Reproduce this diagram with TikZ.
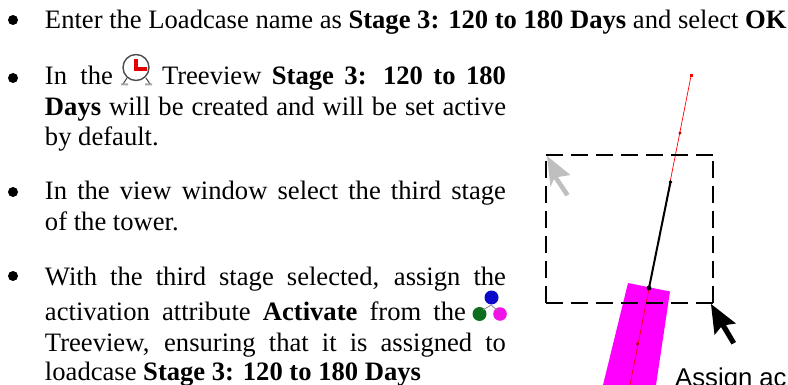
\documentclass[tikz,border=0pt]{standalone}
\usepackage{fontspec}
\setmainfont{Liberation Serif}
\newfontfamily\labelfont{Liberation Sans}
\definecolor{memberpink}{RGB}{255,0,255}
\definecolor{triadpink}{RGB}{240,20,230}
\definecolor{triadblue}{RGB}{10,10,200}
\definecolor{triadgreen}{RGB}{15,110,30}
\tikzset{
  x=1pt,y=1pt,
  txt/.style={anchor=base west,inner sep=0pt,outer sep=0pt,font=\fontsize{26.6}{30}\selectfont},
  bul/.style={circle,fill=black,inner sep=0pt,minimum size=10pt},
  window/.style={black,line width=2pt,dash pattern=on 17pt off 8pt}
}
\newcommand{\jl}[2]{\makebox[#1][s]{#2}}
\begin{document}
\begin{tikzpicture}
\useasboundingbox (0,0) rectangle (788,-385);
% bullets
\foreach \n/\y in {a/-20,b/-78,c/-192,d/-276}{\node[bul] (bul\n) at (13,\y) {};}
% text
\node[txt] (t1) at (45,-29) {Enter the Loadcase name as \textbf{Stage 3: 120 to 180 Days} and select \textbf{OK}};
\node[txt] (t2a) at (45,-85) {\jl{68pt}{In the}};
\node[txt] (t2b) at (162,-85) {\jl{344pt}{Treeview \textbf{Stage 3: 120 to 180}}};
\node[txt] (t3) at (45,-116) {\jl{461pt}{\textbf{Days} will be created and will be set active}};
\node[txt] (t4) at (45,-146) {by default.};
\node[txt] (t5) at (45,-200) {\jl{461pt}{In the view window select the third stage}};
\node[txt] (t6) at (45,-231) {of the tower.};
\node[txt] (t7) at (45,-285) {\jl{461pt}{With the third stage selected, assign the}};
\node[txt] (t8a) at (45,-320) {\jl{421pt}{activation attribute \textbf{Activate} from the}};
\node[txt] (t9) at (45,-351) {\jl{461pt}{Treeview, ensuring that it is assigned to}};
\node[txt] (t10) at (45,-380) {loadcase \textbf{Stage 3: 120 to 180 Days}};
% clock icon
\draw[black!70,line width=1pt] (127,-78) -- (123,-84) (146,-78) -- (150,-84);
\fill[black!35] (121,-83.5) rectangle (128,-85.5) (145,-83.5) rectangle (152,-85.5);
\draw[black!70,fill=white,line width=1.4pt] (136,-67.5) circle (13);
\fill[red!90!black] (133.5,-59.5) rectangle (138,-71);
\fill[red!90!black] (133.5,-67) rectangle (147,-71);
% triad icon
\fill[triadgreen] (479.5,-314) circle (7);
\fill[triadpink] (500,-314) circle (6.8);
\fill[triadblue] (491.5,-297.5) circle (7);
\draw[black!45,line width=0.8pt] (491,-305) -- (483,-310) (491,-305) -- (497,-310);
% magenta member
\fill[memberpink] (628,-283) -- (670,-291.5) -- (656,-385) -- (603,-385) -- cycle;
% red line
\draw[red,line width=0.7pt] (691,-76) -- (630,-385);
\fill[red] (689.5,-77.5) rectangle (692.5,-74.5);
\fill[red!70!black] (680,-133) circle (1.6);
\fill[red!70!black] (659,-239) circle (1.3);
\fill[red!60!black] (637.5,-344) circle (1.6);
% black member
\draw[black,line width=2pt] (670.5,-182) -- (649,-288);
\fill[black] (670.5,-182) circle (1.9);
\fill[black] (649,-288) circle (2.4);
% selection window
\draw[window] (546,-155.5) -- (712.5,-155.5);
\draw[window] (546,-303) -- (546,-155.5);
\draw[window] (546,-303) -- (712.5,-303);
\draw[window] (712.5,-303) -- (712.5,-155.5);
% cursors
\fill[black!25] (547,-156) -- (570.5,-175) -- (558,-177) -- (569.5,-194) -- (565.5,-196.5) -- (554,-179) -- (550.5,-187) -- cycle;
\fill[black] (711,-304) -- (736,-323.5) -- (726,-325) -- (736,-342) -- (731.5,-344.5) -- (721,-327) -- (714.5,-335) -- cycle;
% label
\node[anchor=base west,inner sep=0pt,font=\labelfont\fontsize{25.7}{30}\selectfont] (lab) at (675,-386.5) {Assign ac};
\end{tikzpicture}
\end{document}
